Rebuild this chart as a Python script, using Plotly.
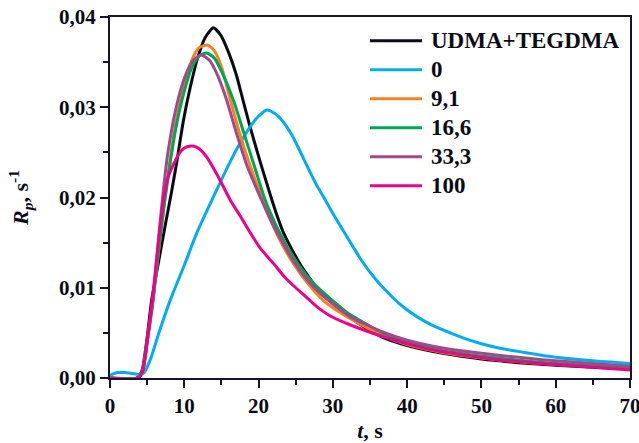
import plotly.graph_objects as go

names = ["UDMA+TEGDMA", "0", "9,1", "16,6", "33,3", "100"]
colors = ["#0b0b16", "#00aeef", "#f58220", "#00a651", "#a4478c", "#ec008c"]

black_t = [0, 3.6, 4.3, 5.0, 5.6, 6.5, 7.5, 8.3, 9.0, 9.9, 10.8, 11.7, 12.8, 13.9, 14.9, 16.0, 17.0, 17.9, 18.8, 20.2, 21.5, 22.4, 23.3, 24.2, 25.6, 26.5, 28.0, 30.5, 33.0, 36.7, 40.0, 45.0, 50.0, 55.0, 60.0, 65.0, 70.0]
black_y = [0, 0, 0.0008, 0.0045, 0.0086, 0.0127, 0.0172, 0.0207, 0.0240, 0.0286, 0.0322, 0.0352, 0.0377, 0.0388, 0.0380, 0.0360, 0.0336, 0.0308, 0.0280, 0.0240, 0.0205, 0.0182, 0.0162, 0.0147, 0.0126, 0.0115, 0.0098, 0.0079, 0.0063, 0.0045, 0.0036, 0.0027, 0.0021, 0.0017, 0.0014, 0.0012, 0.0010]

blue_t = [0, 1, 2, 3, 4, 4.6, 5.5, 6.5, 8.1, 10, 11.7, 13.3, 14.8, 16.2, 17.5, 19, 20, 21.1, 22.2, 23.3, 24.5, 25.6, 26.7, 27.8, 29.0, 30.1, 31.2, 32.3, 33.8, 35.4, 37.0, 39.0, 41.3, 43.5, 45.8, 48.0, 50.0, 52.5, 56, 60, 65, 70]
blue_y = [0.0003, 0.0006, 0.0006, 0.0005, 0.0004, 0.0006, 0.0022, 0.0048, 0.0086, 0.0125, 0.0161, 0.0190, 0.0216, 0.0240, 0.0260, 0.0280, 0.0290, 0.0297, 0.0293, 0.0284, 0.0269, 0.0251, 0.0232, 0.0214, 0.0197, 0.0181, 0.0166, 0.0151, 0.0131, 0.0113, 0.0098, 0.0082, 0.0068, 0.0058, 0.0050, 0.0043, 0.0038, 0.0033, 0.0028, 0.0023, 0.0019, 0.0016]

orange_t = [0, 3.8, 4.4, 5.0, 5.8, 6.6, 7.4, 8.2, 9.0, 10.0, 11.0, 12.0, 13.1, 14.0, 15.0, 16.2, 17.5, 19.0, 20.6, 22.0, 23.3, 25.0, 26.5, 28.7, 30.5, 32.3, 36.7, 40.0, 45.0, 52.5, 60.0, 70.0]
orange_y = [0, 0, 0.0008, 0.0040, 0.0088, 0.0145, 0.0200, 0.0248, 0.0288, 0.0325, 0.0352, 0.0366, 0.0369, 0.0363, 0.0345, 0.0308, 0.0270, 0.0232, 0.0197, 0.0168, 0.0146, 0.0123, 0.0106, 0.0086, 0.0075, 0.0066, 0.0047, 0.0037, 0.0028, 0.0020, 0.0015, 0.0011]

green_t = [0, 3.8, 4.4, 5.0, 5.8, 6.6, 7.4, 8.2, 9.0, 10.0, 11.0, 12.0, 13.0, 14.0, 15.0, 16.6, 18.0, 19.5, 20.9, 22.3, 23.9, 25.5, 27.5, 29.5, 32.0, 36.7, 40.0, 45.0, 52.5, 60.0, 70.0]
green_y = [0, 0, 0.0008, 0.0040, 0.0088, 0.0145, 0.0198, 0.0244, 0.0283, 0.0318, 0.0344, 0.0357, 0.0360, 0.0355, 0.0340, 0.0308, 0.0272, 0.0233, 0.0197, 0.0170, 0.0145, 0.0124, 0.0104, 0.0089, 0.0072, 0.0050, 0.0040, 0.0030, 0.0022, 0.0016, 0.0012]

purple_t = [0, 3.8, 4.4, 5.0, 5.8, 6.6, 7.6, 8.1, 8.6, 9.4, 10.3, 11.2, 12.3, 13.4, 14.5, 15.7, 17.0, 18.5, 20.2, 21.8, 23.3, 24.8, 26.5, 28.5, 30.5, 32.3, 36.7, 40.0, 45.0, 52.5, 60.0, 70.0]
purple_y = [0, 0, 0.0008, 0.0040, 0.0086, 0.0160, 0.0238, 0.0265, 0.0288, 0.0316, 0.0338, 0.0352, 0.0358, 0.0352, 0.0335, 0.0308, 0.0272, 0.0234, 0.0201, 0.0172, 0.0149, 0.0128, 0.0109, 0.0092, 0.0079, 0.0068, 0.0051, 0.0042, 0.0033, 0.0025, 0.0019, 0.0013]

pink_t = [0, 3.8, 4.4, 5.0, 5.8, 6.5, 7.2, 7.8, 8.5, 9.5, 10.3, 11.2, 12.0, 13.0, 14.5, 16.2, 17.5, 18.8, 20.3, 22.0, 23.5, 25.0, 26.5, 28.0, 29.6, 32.3, 36.7, 40.0, 43.5, 48.0, 52.5, 60.0, 70.0]
pink_y = [0, 0, 0.0008, 0.0040, 0.0094, 0.0150, 0.0197, 0.0222, 0.0236, 0.0251, 0.0256, 0.0257, 0.0254, 0.0245, 0.0224, 0.0197, 0.0180, 0.0162, 0.0143, 0.0127, 0.0112, 0.0100, 0.0089, 0.0078, 0.0069, 0.0059, 0.0046, 0.0038, 0.0031, 0.0025, 0.0020, 0.0015, 0.0009]

series_t = [black_t, blue_t, orange_t, green_t, purple_t, pink_t]
series_y = [black_y, blue_y, orange_y, green_y, purple_y, pink_y]

FONT = "Liberation Serif"
AX = "#14142a"
TXT = "#0b0b16"

fig = go.Figure()
for name, col, tt, yy in zip(names, colors, series_t, series_y):
    fig.add_trace(go.Scatter(x=tt, y=yy, mode="lines", name=name,
                             line=dict(color=col, width=3, shape="spline", smoothing=0.6),
                             showlegend=False))

# manual legend (positions in paper coordinates)
lx0, lx1, ltx = 0.50, 0.60, 0.613
ly0, ldy = 0.934, 0.0803
for i, (name, col) in enumerate(zip(names, colors)):
    yy = ly0 - i * ldy
    fig.add_shape(type="line", xref="paper", yref="paper", x0=lx0, x1=lx1, y0=yy, y1=yy,
                  line=dict(color=col, width=3))
    fig.add_annotation(xref="paper", yref="paper", x=ltx, y=yy, text=name, showarrow=False,
                       xanchor="left", yanchor="middle",
                       font=dict(family=FONT, size=23, color=TXT, weight="bold"))

fig.update_layout(
    width=639, height=443,
    margin=dict(l=110, r=9, t=17, b=65),
    paper_bgcolor="white", plot_bgcolor="white",
    separators=", ",
    font=dict(family=FONT, size=20, color=TXT, weight="bold"),
    showlegend=False,
)
fig.update_xaxes(range=[0, 70], dtick=10, tick0=0, showgrid=False, zeroline=False, automargin=False,
                 ticklabeloverflow="allow",
                 showline=True, linecolor=AX, linewidth=2, mirror=True,
                 ticks="outside", ticklen=8, tickwidth=2, tickcolor=AX,
                 minor=dict(ticks="outside", ticklen=5, tickwidth=2, tickcolor=AX, dtick=5, showgrid=False),
                 tickfont=dict(family=FONT, size=21, color=TXT, weight="bold"),
                 title=dict(text="<i>t</i>, s", standoff=8,
                            font=dict(family=FONT, size=22, color=TXT, weight="bold")))
fig.update_yaxes(range=[0, 0.04], dtick=0.01, tick0=0, tickformat=".2f", showgrid=False, zeroline=False,
                 automargin=False, ticklabeloverflow="allow",
                 showline=True, linecolor=AX, linewidth=2, mirror=True,
                 ticks="outside", ticklen=8, tickwidth=2, tickcolor=AX,
                 minor=dict(ticks="outside", ticklen=5, tickwidth=2, tickcolor=AX, dtick=0.005, showgrid=False),
                 tickfont=dict(family=FONT, size=21, color=TXT, weight="bold"),
                 title=dict(text="<i>R</i><sub><i>p</i></sub>, s<sup>-1</sup>", standoff=24,
                            font=dict(family=FONT, size=22, color=TXT, weight="bold")))

fig.write_html("out.html")
